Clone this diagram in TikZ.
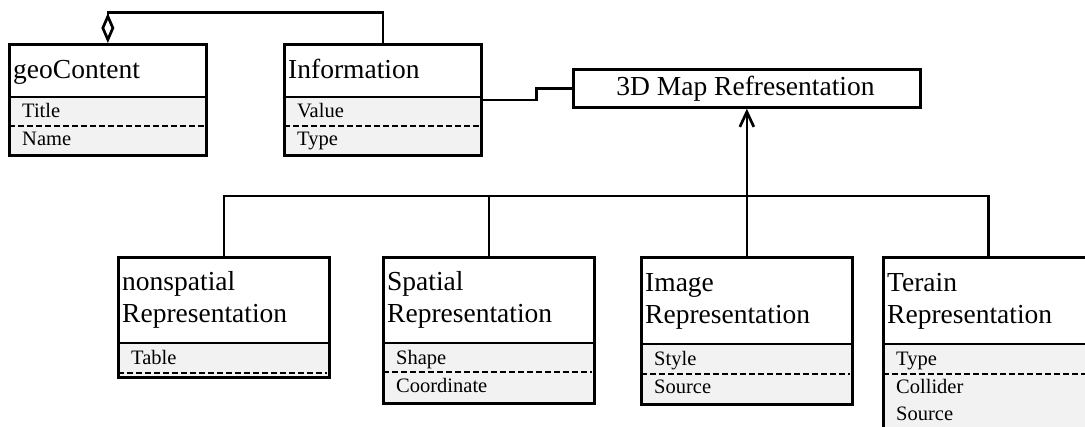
\documentclass[tikz,border=0pt]{standalone}
\usepackage{fontspec}
\setmainfont{Liberation Serif}
\usetikzlibrary{arrows.meta}

\tikzset{
  clsbox/.style={draw, line width=2.7pt, inner sep=0pt, anchor=north west},
  attrarea/.style={fill=black!5},
  sepline/.style={line width=2.7pt},
  dashsep/.style={line width=2.2pt, dash pattern=on 6pt off 3pt},
  ctitle/.style={font=\fontsize{27.5}{32}\selectfont, inner sep=0pt, anchor=base west, align=left},
  cattr/.style={font=\fontsize{20.5}{24}\selectfont, inner sep=0pt, anchor=base west},
  conn/.style={line width=2.7pt},
}

\begin{document}
\begin{tikzpicture}[x=1pt,y=-1pt]
\useasboundingbox (0,0) rectangle (1085,426);

% ---------- geoContent ----------
\fill[attrarea] (8,97) rectangle (205,154);
\node[clsbox, minimum width=197pt, minimum height=111pt] (geo) at (8,43) {};
\draw[sepline] (8,97) -- (205,97);
\draw[dashsep] (9,126) -- (204,126);
\node[ctitle] (geoT) at (13,78) {geoContent};
\node[cattr] (geoA1) at (22,117) {Title};
\node[cattr] (geoA2) at (22,145) {Name};

% ---------- Information ----------
\fill[attrarea] (283,97) rectangle (480,154);
\node[clsbox, minimum width=197pt, minimum height=111pt] (info) at (283,43) {};
\draw[sepline] (283,97) -- (480,97);
\draw[dashsep] (284,126) -- (479,126);
\node[ctitle] (infoT) at (288,78) {Information};
\node[cattr] (infoA1) at (297,117) {Value};
\node[cattr] (infoA2) at (297,145) {Type};

% ---------- 3D Map Refresentation ----------
\node[clsbox, minimum width=347pt, minimum height=38pt] (map3d) at (572,68) {};
\node[font=\fontsize{27.5}{32}\selectfont, inner sep=0pt, anchor=base] (mapT) at (745.5,95) {3D Map Refresentation};

% ---------- nonspatial Representation ----------
\fill[attrarea] (117,343) rectangle (328,376);
\node[clsbox, minimum width=211pt, minimum height=120pt] (nonsp) at (117,256) {};
\draw[sepline] (117,343) -- (328,343);
\draw[dashsep] (118,373) -- (327,373);
\node[ctitle] (nonspT) at (122,322) {nonspatial\\Representation};
\node[cattr] (nonspA1) at (131,364) {Table};

% ---------- Spatial Representation ----------
\fill[attrarea] (382,343) rectangle (593,402);
\node[clsbox, minimum width=211pt, minimum height=146pt] (spatial) at (382,256) {};
\draw[sepline] (382,343) -- (593,343);
\draw[dashsep] (383,372) -- (592,372);
\node[ctitle] (spatialT) at (387,322) {Spatial\\Representation};
\node[cattr] (spatialA1) at (396,364) {Shape};
\node[cattr] (spatialA2) at (396,392) {Coordinate};

% ---------- Image Representation ----------
\fill[attrarea] (640,344) rectangle (851,403);
\node[clsbox, minimum width=211pt, minimum height=147pt] (image) at (640,256) {};
\draw[sepline] (640,344) -- (851,344);
\draw[dashsep] (641,374) -- (850,374);
\node[ctitle] (imageT) at (645,323) {Image\\Representation};
\node[cattr] (imageA1) at (654,365) {Style};
\node[cattr] (imageA2) at (654,393) {Source};

% ---------- Terain Representation ----------
\fill[attrarea] (882,344) rectangle (1092,440);
\node[clsbox, minimum width=210pt, minimum height=184pt] (terain) at (882,256) {};
\draw[sepline] (882,344) -- (1092,344);
\draw[dashsep] (883,374) -- (1091,374);
\node[ctitle] (terainT) at (887,323) {Terain\\Representation};
\node[cattr] (terainA1) at (896,365) {Type};
\node[cattr] (terainA2) at (896,393) {Collider};
\node[cattr] (terainA3) at (896,420) {Source};

% ---------- connectors ----------
\coordinate (topbus) at (0,12.5);
\coordinate (bus) at (0,196);

% aggregation: Information is part of geoContent
\draw[conn, -{Diamond[open, length=30pt, width=13pt]}]
  (info.north) -- (info.north |- topbus) -- (geo.north |- topbus) -- (geo.north);

% Information linked to the 3D map
\draw[conn] (info.east) -- ++(54,0) |- (map3d.west);

% specialisations of the 3D map representation
\draw[conn] (nonsp.north) -- (nonsp.north |- bus) -- (terain.north |- bus) -- (terain.north);
\draw[conn] (spatial.north) -- (spatial.north |- bus);
\draw[conn, -{Straight Barb[length=15pt, width=14pt]}]
  (image.north) -- (image.north |- map3d.south);

\end{tikzpicture}
\end{document}
